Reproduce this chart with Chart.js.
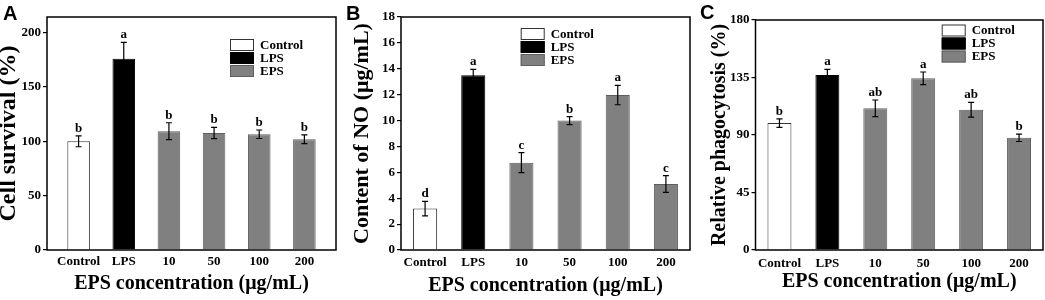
<!DOCTYPE html>
<html><head><meta charset="utf-8">
<script src="https://cdn.jsdelivr.net/npm/chart.js@4.4.1/dist/chart.umd.min.js"></script>
<style>
html,body{margin:0;padding:0;background:#fff;width:1045px;height:300px;overflow:hidden;position:relative}
.p{position:absolute;top:0;height:300px}
.p canvas{display:block}
.lt{position:absolute;font:bold 20px "Liberation Sans",Arial,sans-serif;color:#000;line-height:1}
</style></head><body>
<div class="p" style="left:0;width:348px"><canvas id="cA" width="348" height="300"></canvas></div>
<div class="p" style="left:348px;width:347px"><canvas id="cB" width="347" height="300"></canvas></div>
<div class="p" style="left:695px;width:350px"><canvas id="cC" width="350" height="300"></canvas></div>
<div class="lt" style="left:3px;top:3px">A</div>
<div class="lt" style="left:346px;top:3px">B</div>
<div class="lt" style="left:700px;top:2px">C</div>
<script>
// ---- data ----
const categories = ['Control', 'LPS', '10', '50', '100', '200'];
const groups = ['Control', 'LPS', 'EPS'];
const groupOf = [0, 1, 2, 2, 2, 2];

const survival = [100, 176, 109.3, 107.7, 106.5, 101.9];
const survivalErr = [5, 15, 7.8, 5.2, 3.9, 4.0];
const survivalSig = ['b', 'a', 'b', 'b', 'b', 'b'];
const survivalTicks = [0, 50, 100, 150, 200];

const noContent = [3.2, 13.5, 6.75, 10.0, 11.97, 5.1];
const noErr = [0.56, 0.46, 0.77, 0.31, 0.75, 0.65];
const noSig = ['d', 'a', 'c', 'b', 'a', 'c'];
const noTicks = [0, 2, 4, 6, 8, 10, 12, 14, 16, 18];

const phago = [99.3, 136.9, 110.9, 134.4, 109.8, 87.8];
const phagoErr = [3.3, 4.4, 6.5, 4.9, 5.8, 2.9];
const phagoSig = ['b', 'a', 'ab', 'a', 'ab', 'b'];
const phagoTicks = [0, 45, 90, 135, 180];

// ---- styles ----
const SERIF = '"Liberation Serif","Times New Roman",serif';
const groupFill = ['#ffffff', '#000000', '#808080'];
const groupBorder = ['#333333', '#000000', '#5e5e5e'];

const decor = {
  id: 'decor',
  afterDatasetsDraw(chart, args, o) {
    const {ctx, chartArea: a, scales: {x, y}} = chart;
    ctx.save();
    ctx.strokeStyle = '#000';
    ctx.fillStyle = '#000';
    ctx.lineWidth = 1.2;
    o.values.forEach((v, i) => {
      const px = x.getPixelForValue(i + 1);
      const yt = y.getPixelForValue(v + o.err[i]);
      const yb = y.getPixelForValue(v - o.err[i]);
      ctx.beginPath();
      ctx.moveTo(px, yt); ctx.lineTo(px, yb);
      ctx.moveTo(px - 3, yt); ctx.lineTo(px + 3, yt);
      ctx.moveTo(px - 3, yb); ctx.lineTo(px + 3, yb);
      ctx.stroke();
      ctx.font = 'bold 13px ' + SERIF;
      ctx.textAlign = 'center';
      ctx.textBaseline = 'alphabetic';
      ctx.fillText(o.sig[i], px, yt - 4);
    });
    ctx.lineWidth = 1.5;
    ctx.strokeRect(a.left, a.top, a.right - a.left, a.bottom - a.top);
    // legend
    groups.forEach((g, k) => {
      const bx = o.lx, by = o.ly + k * 13;
      ctx.fillStyle = groupFill[k];
      ctx.fillRect(bx, by, 24, 12);
      ctx.strokeStyle = groupBorder[k];
      ctx.lineWidth = 1;
      ctx.strokeRect(bx + 0.5, by + 0.5, 23, 11);
      ctx.fillStyle = '#000';
      ctx.font = 'bold 13px ' + SERIF;
      ctx.textAlign = 'left';
      ctx.textBaseline = 'middle';
      ctx.fillText(g, bx + 30, by + 6.5);
    });
    ctx.restore();
  }
};

function makeChart(id, values, err, sig, ticks, yTitle, g) {
  new Chart(document.getElementById(id), {
    type: 'bar',
    data: {
      datasets: [{
        data: values.map((v, i) => ({x: i + 1, y: v})),
        backgroundColor: categories.map((c, i) => groupFill[groupOf[i]]),
        borderColor: categories.map((c, i) => groupBorder[groupOf[i]]),
        borderWidth: 1,
        barPercentage: 0.5,
        categoryPercentage: 1
      }]
    },
    options: {
      responsive: false,
      animation: false,
      devicePixelRatio: 1,
      layout: {padding: {left: 0, right: g.padR, top: g.top, bottom: 0}},
      plugins: {
        legend: {display: false},
        tooltip: {enabled: false},
        decor: {values, err, sig, lx: g.lx, ly: g.ly}
      },
      scales: {
        x: {
          type: 'linear', offset: false, min: g.xmin, max: g.xmax,
          afterFit(s) { s.height = 50; },
          afterBuildTicks(s) { s.ticks = categories.map((c, i) => ({value: i + 1})); },
          grid: {display: false, drawTicks: false},
          border: {display: false},
          ticks: {
            font: {family: SERIF, weight: 'bold', size: 13}, color: '#000',
            padding: g.xpad, autoSkip: false, maxRotation: 0,
            callback: (v) => categories[v - 1]
          },
          title: {
            display: true, text: 'EPS concentration (μg/mL)', color: '#000',
            font: {family: SERIF, weight: 'bold', size: 20, lineHeight: 1.2},
            padding: {top: 0, bottom: g.xtpad}
          }
        },
        y: {
          min: 0, max: g.ymax,
          afterFit(s) { s.width = g.left; },
          afterBuildTicks(s) { s.ticks = ticks.map(v => ({value: v})); },
          grid: {drawOnChartArea: false, drawTicks: true, tickLength: 4, color: '#000', lineWidth: 1.2},
          border: {display: false},
          ticks: {font: {family: SERIF, weight: 'bold', size: 13}, color: '#000', padding: 2},
          title: {
            display: true, text: yTitle, color: '#000',
            font: {family: SERIF, weight: 'bold', size: g.ytSize, lineHeight: g.ytLH},
            padding: {top: g.ytPad, bottom: 0}
          }
        }
      }
    },
    plugins: [decor]
  });
}

makeChart('cA', survival, survivalErr, survivalSig, survivalTicks, 'Cell survival (%)',
  {left: 47, padR: 12, top: 17, xmin: 0.3, xmax: 6.7, ymax: 214.4, ytSize: 24, ytLH: 0.75, ytPad: 0,
   xpad: 4, xtpad: 4, lx: 230, ly: 39});
makeChart('cB', noContent, noErr, noSig, noTicks, 'Content of NO (μg/mL)',
  {left: 53, padR: 5, top: 17, xmin: 0.5, xmax: 6.5, ymax: 18, ytSize: 22, ytLH: 1, ytPad: 3.5,
   xpad: 5, xtpad: 2, lx: 172.7, ly: 28});
makeChart('cC', phago, phagoErr, phagoSig, phagoTicks, 'Relative phagocytosis (%)',
  {left: 60.5, padR: 2, top: 20, xmin: 0.5, xmax: 6.5, ymax: 180, ytSize: 20, ytLH: 1.2, ytPad: 12.5,
   xpad: 6, xtpad: 6, lx: 246.7, ly: 24.5});
</script>
</body></html>
